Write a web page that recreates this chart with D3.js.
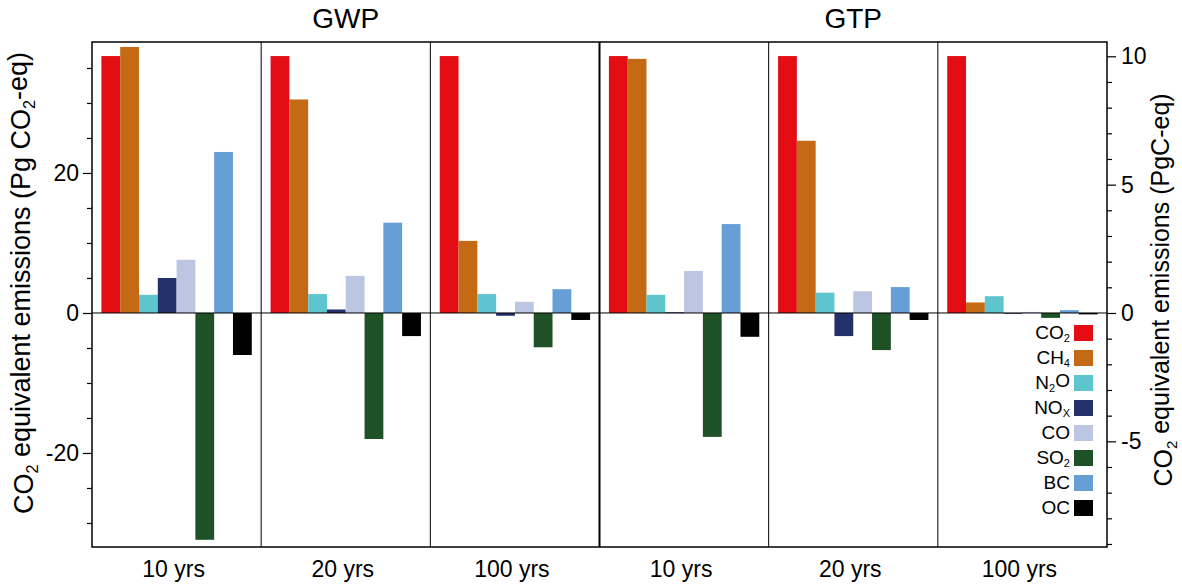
<!DOCTYPE html>
<html><head><meta charset="utf-8">
<script src="https://cdn.jsdelivr.net/npm/d3@7"></script>
<style>body{margin:0;background:#fff}svg{font-family:"Liberation Sans",Arial,sans-serif}</style>
</head><body><svg id="c" width="1182" height="584"></svg>
<script>
const species = ["CO2","CH4","N2O","NOx","CO","SO2","BC","OC"];
const speciesLabels = [["CO","2"],["CH","4"],["N","2","O"],["NO","X"],["CO"],["SO","2"],["BC"],["OC"]];
const colors = ["#e30d13","#c46a15","#5ec4cd","#23306a","#bcc6e2","#1f5127","#659fd6","#000000"];
const panels = ["GWP 10 yrs","GWP 20 yrs","GWP 100 yrs","GTP 10 yrs","GTP 20 yrs","GTP 100 yrs"];
const panelLabels = ["10 yrs","20 yrs","100 yrs","10 yrs","20 yrs","100 yrs"];
const groupTitles = ["GWP","GTP"];
// values in Pg CO2-eq, per panel, order of species
const gwp10  = [36.7, 38.0, 2.6, 5.0, 7.6, -32.4, 23.0, -6.0];
const gwp20  = [36.7, 30.5, 2.7, 0.5, 5.3, -18.0, 12.9, -3.3];
const gwp100 = [36.7, 10.3, 2.7, -0.4, 1.6, -4.9, 3.4, -1.0];
const gtp10  = [36.7, 36.3, 2.6, 0.1, 6.0, -17.7, 12.7, -3.4];
const gtp20  = [36.7, 24.6, 2.9, -3.3, 3.1, -5.3, 3.7, -1.0];
const gtp100 = [36.7, 1.5, 2.4, -0.1, 0.15, -0.7, 0.4, -0.2];
const values = [gwp10, gwp20, gwp100, gtp10, gtp20, gtp100];
const leftTicks = [-20, 0, 20];
const rightTicks = [-5, 0, 5, 10];

const svg = d3.select("#c");
const L = 92, R = 1107, T = 42, B = 547;
const C2CO2 = 44/12;
const y = d3.scaleLinear().domain([-33.43, 38.71]).range([B, T]);
const yR = d3.scaleLinear().domain([-33.43/C2CO2, 38.71/C2CO2]).range([B, T]);
const xp = d3.scaleBand().domain(panels).range([L, R]);
const xs = d3.scaleBand().domain(species).range([0, xp.bandwidth()]).paddingOuter(0.5).paddingInner(0);

// bars
panels.forEach((p, i) => {
  const g = svg.append("g").attr("transform", `translate(${xp(p)},0)`);
  g.selectAll("rect").data(species.map((s, j) => ({s, v: values[i][j], c: colors[j]})))
    .join("rect")
    .attr("x", d => xs(d.s))
    .attr("width", xs.bandwidth())
    .attr("y", d => y(Math.max(0, d.v)))
    .attr("height", d => Math.max(0.8, Math.abs(y(d.v) - y(0))))
    .attr("fill", d => d.c);
});

// zero line
svg.append("line").attr("x1", L).attr("x2", R).attr("y1", y(0)).attr("y2", y(0)).attr("stroke", "#000").attr("stroke-width", 1);

// panel dividers
panels.slice(1).forEach((p, i) => {
  svg.append("line").attr("x1", xp(p)).attr("x2", xp(p)).attr("y1", T).attr("y2", B)
    .attr("stroke", "#000").attr("stroke-width", i === 2 ? 2 : 1);
});
// frame
svg.append("rect").attr("x", L).attr("y", T).attr("width", R - L).attr("height", B - T)
  .attr("fill", "none").attr("stroke", "#000").attr("stroke-width", 1.5);

// left axis
const gl = svg.append("g").attr("transform", `translate(${L},0)`);
gl.call(d3.axisLeft(y).tickValues(d3.range(-30, 36, 5).filter(v => !leftTicks.includes(v))).tickSize(5).tickFormat(""));
gl.append("g").call(d3.axisLeft(y).tickValues(leftTicks).tickSize(9).tickPadding(4).tickFormat(d => String(d)));
gl.selectAll(".domain").remove();
gl.selectAll("text").attr("font-size", 23).attr("fill", "#000").attr("font-family", "Liberation Sans, Arial, sans-serif");
gl.selectAll("line").attr("stroke-width", 1.2);

// right axis
const gr = svg.append("g").attr("transform", `translate(${R},0)`);
gr.call(d3.axisRight(yR).tickValues(d3.range(-9, 11, 1).filter(v => !rightTicks.includes(v))).tickSize(5).tickFormat(""));
gr.append("g").call(d3.axisRight(yR).tickValues(rightTicks).tickSize(9).tickPadding(5).tickFormat(d => String(d)));
gr.selectAll(".domain").remove();
gr.selectAll("text").attr("font-size", 23).attr("fill", "#000").attr("font-family", "Liberation Sans, Arial, sans-serif");
gr.selectAll("line").attr("stroke-width", 1.2);

// panel labels
panels.forEach((p, i) => {
  svg.append("text").attr("x", xp(p) + xp.bandwidth()/2 - 3).attr("y", 577).attr("text-anchor", "middle")
    .attr("font-size", 23).text(panelLabels[i]);
});
// group titles
groupTitles.forEach((t, i) => {
  const cx = xp(panels[i*3 + 1]) + xp.bandwidth()/2;
  svg.append("text").attr("x", cx).attr("y", 28).attr("text-anchor", "middle").attr("font-size", 28).text(t);
});

// axis titles
function subText(sel, parts) {
  parts.forEach(pt => {
    const ts = sel.append("tspan").text(pt.t);
    if (pt.sub) ts.attr("font-size", "60%").attr("dy", "0.3em");
    if (pt.after) ts.attr("dy", "-0.3em");
  });
}
const lt = svg.append("text").attr("transform", `translate(33,283) rotate(-90)`).attr("text-anchor", "middle").attr("font-size", 27);
subText(lt, [{t:"CO"},{t:"2",sub:true},{t:" equivalent emissions (Pg CO",after:true},{t:"2",sub:true},{t:"-eq)",after:true}]);
const rt = svg.append("text").attr("transform", `translate(1172,290) rotate(-90)`).attr("text-anchor", "middle").attr("font-size", 25);
subText(rt, [{t:"CO"},{t:"2",sub:true},{t:" equivalent emissions (PgC-eq)",after:true}]);

// legend
const lg = svg.append("g");
species.forEach((s, j) => {
  const cy = 333 + j * 25;
  lg.append("rect").attr("x", 1074).attr("y", cy - 8).attr("width", 19).attr("height", 16).attr("fill", colors[j]);
  const t = lg.append("text").attr("x", 1070).attr("y", cy + 6).attr("text-anchor", "end").attr("font-size", 19);
  const parts = speciesLabels[j];
  t.append("tspan").text(parts[0]);
  if (parts[1]) t.append("tspan").text(parts[1]).attr("font-size", "58%").attr("dy", "0.3em");
  if (parts[2]) t.append("tspan").text(parts[2]).attr("dy", "-0.3em");
});
</script></body></html>
